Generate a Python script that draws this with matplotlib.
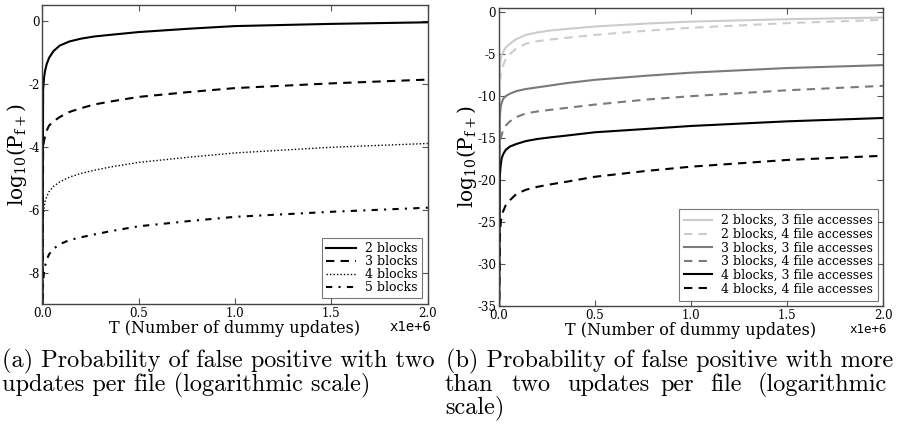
import numpy as np
import matplotlib.pyplot as plt

plt.rcParams['axes.unicode_minus'] = False
plt.rcParams['mathtext.fontset'] = 'dejavuserif'
plt.rcParams['font.family'] = 'DejaVu Serif'

# T in units of 1e6 dummy updates
T = [0.0005, 0.004, 0.009, 0.014, 0.022, 0.035, 0.057, 0.09, 0.14,
     0.2, 0.27, 0.35, 0.5, 0.77, 1.0, 1.5, 2.0]

# (a) two updates per file
b2 = [-9.5, -2.2, -1.8, -1.6, -1.39, -1.18, -0.97, -0.79, -0.66,
      -0.57, -0.5, -0.45, -0.36, -0.25, -0.17, -0.10, -0.05]
b3 = [-9.5, -4.0, -3.8, -3.68, -3.5, -3.33, -3.2, -3.06, -2.9,
      -2.78, -2.66, -2.57, -2.42, -2.26, -2.14, -1.99, -1.87]
b4 = [-9.5, -6.3, -5.95, -5.75, -5.6, -5.43, -5.27, -5.12, -4.97,
      -4.85, -4.75, -4.65, -4.5, -4.33, -4.2, -4.02, -3.9]
b5 = [-9.5, -8.3, -7.97, -7.8, -7.6, -7.42, -7.25, -7.1, -6.97,
      -6.88, -6.79, -6.69, -6.53, -6.36, -6.23, -6.07, -5.94]
labels_a = ['2 blocks', '3 blocks', '4 blocks', '5 blocks']

# (b) more than two updates per file
r1 = [-36, -6.3, -5.6, -5.1, -4.7, -4.2, -3.75, -3.2, -2.7,
      -2.4, -2.17, -2.0, -1.7, -1.35, -1.12, -0.83, -0.63]
r2 = [-36, -8.5, -7.6, -6.9, -6.3, -5.6, -5.0, -4.3, -3.75,
      -3.45, -3.25, -3.05, -2.7, -2.2, -1.85, -1.3, -0.91]
r3 = [-36, -12.6, -11.2, -10.8, -10.3, -10.0, -9.7, -9.4, -9.15,
      -8.95, -8.72, -8.45, -8.05, -7.56, -7.2, -6.65, -6.3]
r4 = [-36, -16.0, -15.0, -14.6, -14.0, -13.5, -13.0, -12.5, -12.05,
      -11.82, -11.62, -11.4, -11.0, -10.4, -10.0, -9.3, -8.77]
r5 = [-36, -19.5, -18.2, -17.4, -16.9, -16.4, -16.0, -15.7, -15.35,
      -15.1, -14.9, -14.7, -14.3, -13.9, -13.55, -13.0, -12.6]
r6 = [-36, -27.0, -25.0, -24.3, -23.7, -23.0, -22.4, -21.65, -21.15,
      -20.8, -20.5, -20.2, -19.6, -18.9, -18.4, -17.6, -17.1]
labels_b = ['2 blocks, 3 file accesses', '2 blocks, 4 file accesses',
            '3 blocks, 3 file accesses', '3 blocks, 4 file accesses',
            '4 blocks, 3 file accesses', '4 blocks, 4 file accesses']

fig = plt.figure(figsize=(8.97, 4.34), dpi=100)
ax1 = fig.add_axes([0.0472, 0.2995, 0.4297, 0.689])
ax2 = fig.add_axes([0.5563, 0.2949, 0.4281, 0.6866])


def style(ax, ylim, yticks, offsize):
    ax.set_xlim(0, 2.0)
    ax.set_ylim(*ylim)
    ax.set_xticks([0.0, 0.5, 1.0, 1.5, 2.0])
    ax.set_xticklabels(['0.0', '0.5', '1.0', '1.5', '2.0'])
    ax.set_yticks(yticks)
    ax.set_yticklabels([str(v) for v in yticks])
    ax.tick_params(direction='in', top=True, right=True, length=4,
                   labelsize=8.5, pad=2, color='#555555')
    for s in ax.spines.values():
        s.set_color('#444444')
        s.set_linewidth(1.0)
    ax.set_xlabel('T (Number of dummy updates)', fontsize=11.5, labelpad=0)
    ax.set_ylabel(r'log$_{10}$(P$_{\mathrm{f+}}$)', fontsize=14.5, labelpad=-1)
    ax.text(1.01, -0.078, 'x1e+6', transform=ax.transAxes, ha='right',
            va='center', fontsize=offsize, family='DejaVu Sans Mono')


# left panel
ax1.plot(T, b2, color='black', lw=1.5, label=labels_a[0])
ax1.plot(T, b3, color='black', lw=1.5, ls=(0, (4, 3)), label=labels_a[1])
ax1.plot(T, b4, color='black', lw=1.0, ls=(0, (1, 1.5)), label=labels_a[2])
ax1.plot(T, b5, color='black', lw=1.5, ls=(0, (3, 3, 1, 3)), label=labels_a[3])
style(ax1, (-9, 0.5), [0, -2, -4, -6, -8], 10)
leg = ax1.legend(loc='lower right', fontsize=9, frameon=True, fancybox=False,
                 handlelength=2.4, labelspacing=0.0, borderpad=0.35,
                 borderaxespad=0.45, handletextpad=0.7)
leg.get_frame().set_edgecolor('#555555')
leg.get_frame().set_linewidth(0.8)

# right panel
ax2.plot(T, r1, color='#cccccc', lw=1.5, label=labels_b[0])
ax2.plot(T, r2, color='#cccccc', lw=1.5, ls=(0, (4, 3)), label=labels_b[1])
ax2.plot(T, r3, color='#7a7a7a', lw=1.5, label=labels_b[2])
ax2.plot(T, r4, color='#7a7a7a', lw=1.5, ls=(0, (4, 3)), label=labels_b[3])
ax2.plot(T, r5, color='black', lw=1.5, label=labels_b[4])
ax2.plot(T, r6, color='black', lw=1.5, ls=(0, (4, 3)), label=labels_b[5])
style(ax2, (-35, 0.5), [0, -5, -10, -15, -20, -25, -30, -35], 9)
leg = ax2.legend(loc='lower right', fontsize=9, frameon=True, fancybox=False,
                 handlelength=2.2, labelspacing=0.05, borderpad=0.45,
                 borderaxespad=0.4, handletextpad=0.7)
leg.get_frame().set_edgecolor('#555555')
leg.get_frame().set_linewidth(0.8)

# captions
cap = dict(fontsize=17.5, family='cmr10', va='center', ha='left')
fig.text(2 / 897, 1 - 361 / 434, '(a) Probability of false positive with two', **cap)
fig.text(2 / 897, 1 - 385 / 434, 'updates per file (logarithmic scale)', **cap)
fig.text(446 / 897, 1 - 361 / 434, '(b) Probability of false positive with more', **cap)
words = ['than', 'two', 'updates', 'per', 'file', '(logarithmic']
word_x = [445, 512, 567, 660, 710, 758]
for w, x in zip(words, word_x):
    fig.text(x / 897, 1 - 385 / 434, w, **cap)
fig.text(445 / 897, 1 - 408 / 434, 'scale)', **cap)

fig.savefig('out.png', dpi=100)
